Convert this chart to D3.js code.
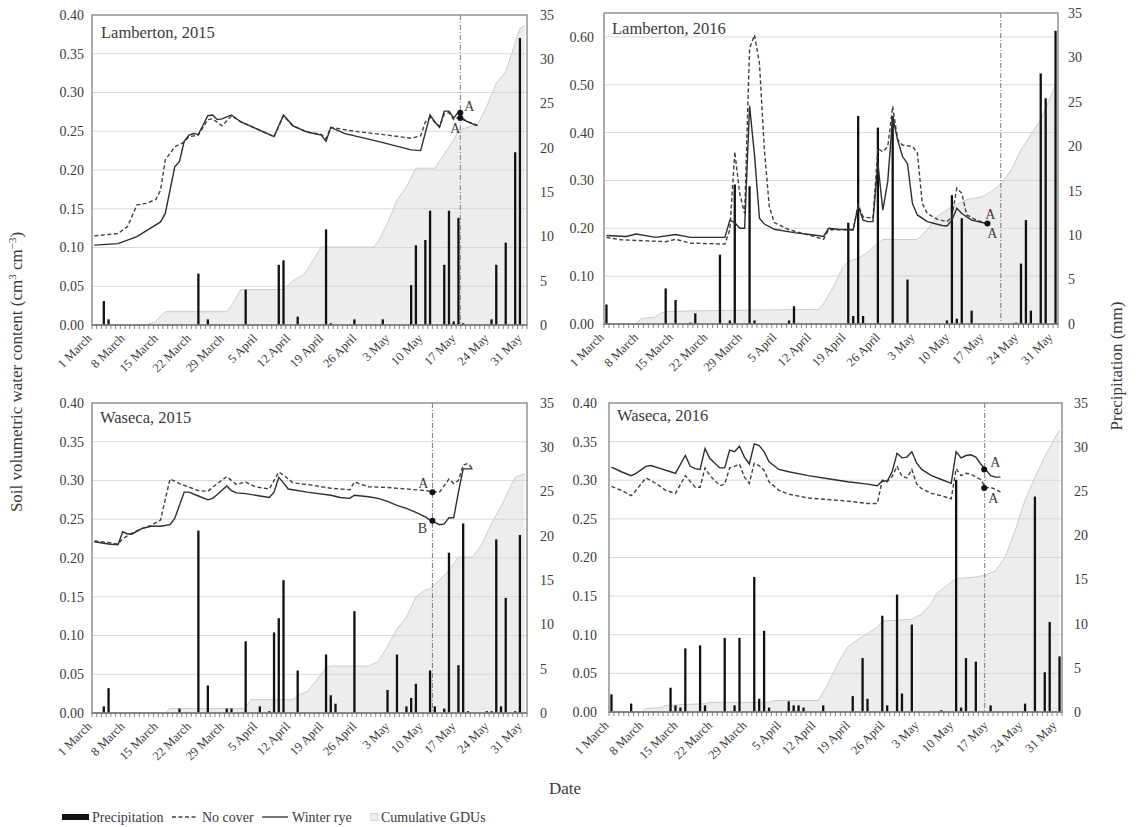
<!DOCTYPE html>
<html>
<head>
<meta charset="utf-8">
<script src="https://cdn.jsdelivr.net/npm/d3@7"></script>
<style>
  body { margin: 0; background: #fff; }
  svg { display: block; }
  text { font-family: "Liberation Serif", "Times New Roman", serif; fill: #3a3a3a; }
</style>
</head>
<body>
<svg id="chart" width="1138" height="827"></svg>
<script>
// ---- Shared axis content (day 0 = 1 March, day 91 = 31 May) ----
const tickDays = [0, 7, 14, 21, 28, 35, 42, 49, 56, 63, 70, 77, 84, 91];
const tickLabels = ["1 March", "8 March", "15 March", "22 March", "29 March", "5 April", "12 April",
  "19 April", "26 April", "3 May", "10 May", "17 May", "24 May", "31 May"];
const precipTicks = [0, 5, 10, 15, 20, 25, 30, 35];
const swcTicks040 = [0, 0.05, 0.10, 0.15, 0.20, 0.25, 0.30, 0.35, 0.40];
const swcTicks060 = [0, 0.10, 0.20, 0.30, 0.40, 0.50, 0.60];

// ---- Lamberton, 2015 ----
const lamb15Precip = [[2,2.7],[3,0.64],[22,5.8],[24,0.64],[32,4.0],[39,6.8],[40,7.3],[43,0.94],[49,10.8],[50,0.2],
  [55,0.64],[61,0.64],[67,4.5],[68,9.0],[70,9.6],[71,12.9],[74,6.8],[75,12.9],[76,0.4],[77,12.1],[78,0.2],
  [83,0.1],[84,0.64],[85,6.8],[87,9.3],[89,19.5],[90,32.4]];
const lamb15Rye = [[0,0.103],[5,0.105],[9,0.114],[14,0.133],[15,0.144],[17,0.204],[18,0.211],[19,0.237],[20,0.245],
  [21,0.247],[22,0.246],[23,0.258],[24,0.27],[25,0.271],[26,0.265],[27,0.266],[29,0.271],[31,0.262],[34,0.254],
  [38,0.243],[40,0.271],[42,0.257],[45,0.249],[48,0.245],[49,0.237],[50,0.255],[53,0.247],[60,0.237],[67,0.226],
  [69,0.225],[71,0.271],[72,0.262],[73,0.255],[74,0.276],[75,0.276],[76,0.267],[77,0.275],[78,0.265],[79,0.262],[81,0.257]];
const lamb15NoCover = [[0,0.115],[5,0.118],[7,0.127],[9,0.155],[11,0.157],[13,0.162],[14,0.174],[15,0.213],[17,0.23],
  [19,0.236],[20,0.243],[22,0.245],[24,0.265],[25,0.266],[27,0.257],[29,0.27],[31,0.262],[34,0.254],[38,0.243],
  [40,0.27],[42,0.257],[45,0.249],[48,0.246],[49,0.24],[50,0.255],[55,0.25],[62,0.245],[67,0.241],[69,0.244],
  [70,0.262],[71,0.268],[72,0.262],[73,0.256],[74,0.272],[75,0.274],[76,0.265],[77,0.268],[78,0.266],[79,0.262],[81,0.258]];
// cumulative GDUs, drawn against the secondary-axis range
const lamb15Gdu = [[0,0],[11,0],[12,0.2],[13,0.4],[14,1.0],[15,1.5],[28,1.5],[29,2.2],[31,4.0],[40,4.0],[42,5.0],
  [44,5.6],[45,6.2],[48,8.8],[59,8.8],[60,9.4],[62,11.5],[64,14.1],[66,15.6],[68,17.7],[72,17.7],[73,18.5],
  [76,20.9],[77,22.0],[80,22.5],[81,22.6],[83,24.7],[85,27.3],[87,28.6],[89,31.8],[90,33.5],[91,33.8]];
const lamb15Marks = [["A", 0.274], ["A", 0.267]];

// ---- Lamberton, 2016 ----
const lamb16Precip = [[0,2.2],[12,4.0],[14,2.7],[17,0.15],[18,1.2],[23,7.8],[25,0.4],[26,15.7],[29,15.5],[30,0.4],
  [37,0.4],[38,2.0],[49,11.4],[50,0.9],[51,23.4],[52,0.9],[55,22.1],[58,23.4],[61,5.0],[69,0.4],[70,14.5],[71,0.6],
  [72,11.9],[74,1.5],[83,0.15],[84,6.8],[85,11.7],[86,1.5],[88,28.2],[89,25.4],[91,33.0]];
const lamb16Rye = [[0,0.185],[4,0.183],[6,0.188],[10,0.181],[14,0.187],[17,0.181],[24,0.181],[25,0.217],[26,0.212],
  [27,0.2],[28,0.2],[29,0.456],[30,0.353],[31,0.221],[32,0.209],[34,0.198],[38,0.191],[42,0.186],[44,0.183],[45,0.2],
  [47,0.198],[50,0.197],[51,0.247],[52,0.217],[53,0.214],[54,0.214],[55,0.336],[56,0.238],[57,0.298],[58,0.433],
  [59,0.385],[60,0.35],[61,0.335],[62,0.252],[63,0.228],[65,0.214],[68,0.206],[69,0.205],[70,0.217],[71,0.242],
  [72,0.231],[74,0.217],[77,0.21]];
const lamb16NoCover = [[0,0.181],[3,0.176],[12,0.172],[14,0.177],[17,0.169],[24,0.167],[25,0.197],[26,0.36],[27,0.273],
  [28,0.231],[29,0.576],[30,0.604],[31,0.545],[32,0.364],[33,0.245],[34,0.212],[37,0.197],[42,0.183],[44,0.177],
  [45,0.197],[50,0.197],[51,0.249],[52,0.224],[54,0.221],[55,0.367],[56,0.36],[57,0.371],[58,0.455],[59,0.385],
  [60,0.374],[62,0.371],[63,0.358],[64,0.252],[65,0.231],[67,0.219],[69,0.214],[70,0.224],[71,0.284],[72,0.273],
  [73,0.228],[75,0.217],[77,0.21]];
const lamb16Gdu = [[0,0],[6,0],[7,0.6],[10,0.8],[11,1.2],[12,1.4],[20,1.5],[43,1.65],[44,2.3],[46,4.2],[48,6.5],
  [49,7.0],[51,7.4],[53,8.1],[55,9.1],[56,9.5],[63,9.5],[65,10.6],[67,12.1],[70,13.2],[73,14.0],[76,14.3],[78,14.9],
  [80,15.8],[82,17.3],[84,19.6],[86,21.3],[88,23.0],[90,25.6],[91,26.9]];
const lamb16Marks = [["A", 0.21]];

// ---- Waseca, 2015 ----
const wase15Precip = [[2,0.75],[3,2.8],[18,0.5],[22,20.6],[24,3.1],[28,0.5],[29,0.5],[32,8.1],[35,0.75],[37,0.2],
  [38,9.1],[39,10.7],[40,15.0],[43,4.8],[49,6.6],[50,2.0],[51,1.05],[55,11.5],[62,2.6],[64,6.6],[66,0.75],[67,1.7],
  [68,3.3],[71,4.8],[72,0.75],[74,0.5],[75,18.1],[77,5.4],[78,21.4],[79,0.2],[83,0.2],[84,0.2],[85,19.6],[86,0.75],
  [87,13.0],[89,0.2],[90,20.1]];
const wase15Rye = [[0,0.221],[3,0.218],[5,0.217],[6,0.234],[7,0.231],[8,0.231],[10,0.238],[12,0.241],[14,0.241],
  [16,0.243],[17,0.251],[19,0.285],[20,0.285],[22,0.28],[24,0.275],[25,0.277],[26,0.282],[28,0.293],[29,0.287],
  [30,0.284],[32,0.283],[35,0.28],[37,0.278],[38,0.285],[39,0.304],[40,0.297],[41,0.289],[45,0.285],[50,0.281],
  [52,0.278],[54,0.277],[55,0.281],[58,0.279],[60,0.277],[62,0.273],[64,0.268],[66,0.264],[68,0.259],[70,0.253],
  [71,0.249],[72,0.246],[73,0.243],[74,0.244],[75,0.252],[76,0.252],[77,0.285],[78,0.315],[80,0.315]];
const wase15NoCover = [[0,0.222],[3,0.22],[5,0.218],[6,0.225],[8,0.232],[10,0.238],[12,0.242],[14,0.249],[16,0.302],
  [18,0.296],[22,0.287],[24,0.286],[26,0.296],[28,0.305],[30,0.295],[32,0.298],[34,0.292],[37,0.289],[39,0.311],
  [40,0.307],[42,0.297],[46,0.294],[50,0.29],[54,0.288],[55,0.298],[58,0.292],[62,0.291],[66,0.289],[70,0.287],
  [71,0.286],[73,0.285],[75,0.302],[76,0.296],[77,0.3],[78,0.32],[79,0.322],[80,0.315]];
const wase15Gdu = [[0,0],[15,0],[16,0.5],[32,0.5],[33,1.5],[42,1.5],[43,2.0],[45,2.4],[47,3.7],[49,5.1],[50,5.3],
  [58,5.3],[60,5.8],[62,7.5],[64,9.5],[66,10.8],[68,13.1],[70,13.9],[71,14.0],[73,15.0],[75,16.1],[77,17.6],
  [80,17.6],[82,19.1],[84,21.4],[86,23.3],[88,25.5],[89,26.6],[91,27.0]];
const wase15Marks = [["A", 0.285], ["B", 0.248]];

// ---- Waseca, 2016 ----
const wase16Precip = [[0,2.0],[4,0.95],[12,2.75],[13,0.75],[14,0.5],[15,7.2],[18,7.55],[19,0.75],[23,8.4],[25,0.75],
  [26,8.4],[29,15.3],[30,1.5],[31,9.2],[32,0.5],[36,1.2],[37,0.75],[38,0.75],[39,0.5],[43,0.75],[49,1.8],[51,6.1],
  [52,1.5],[55,10.9],[56,0.75],[58,13.3],[59,2.1],[61,9.9],[67,0.2],[70,26.3],[71,0.5],[72,6.1],[74,5.7],[77,0.75],
  [84,0.95],[86,24.4],[88,4.5],[89,10.2],[91,6.3]];
const wase16Rye = [[0,0.317],[2,0.311],[4,0.306],[5,0.309],[7,0.318],[8,0.319],[10,0.315],[12,0.311],[13,0.309],
  [15,0.332],[16,0.318],[17,0.315],[18,0.314],[19,0.341],[20,0.328],[22,0.316],[23,0.316],[24,0.339],[25,0.337],
  [26,0.344],[27,0.33],[28,0.321],[29,0.347],[30,0.345],[31,0.337],[32,0.324],[34,0.314],[36,0.311],[40,0.306],
  [44,0.302],[48,0.298],[52,0.295],[54,0.293],[55,0.299],[56,0.299],[57,0.311],[58,0.335],[59,0.329],[60,0.33],
  [61,0.337],[62,0.322],[63,0.314],[65,0.306],[67,0.301],[69,0.296],[70,0.337],[71,0.329],[72,0.332],[73,0.333],
  [74,0.33],[75,0.321],[76,0.314],[77,0.306],[78,0.304],[79,0.304]];
const wase16NoCover = [[0,0.292],[2,0.287],[4,0.28],[5,0.287],[7,0.303],[9,0.296],[11,0.287],[13,0.283],[15,0.306],
  [17,0.291],[18,0.291],[19,0.316],[20,0.306],[22,0.293],[23,0.295],[24,0.316],[25,0.318],[26,0.321],[27,0.304],
  [28,0.296],[29,0.322],[30,0.319],[31,0.313],[32,0.298],[34,0.287],[36,0.282],[40,0.277],[44,0.275],[48,0.273],
  [52,0.27],[54,0.27],[55,0.3],[56,0.298],[57,0.305],[58,0.318],[59,0.305],[60,0.303],[61,0.314],[62,0.295],
  [63,0.289],[65,0.283],[67,0.28],[69,0.276],[70,0.315],[71,0.306],[72,0.309],[73,0.308],[74,0.304],[75,0.301],
  [76,0.29],[77,0.291],[78,0.288],[79,0.285]];
const wase16Gdu = [[0,0],[6,0],[7,0.4],[10,0.5],[11,0.75],[19,0.95],[20,1.1],[32,1.1],[33,1.3],[42,1.3],[44,3.2],
  [46,5.5],[48,7.4],[50,8.2],[52,8.9],[54,9.6],[55,10.3],[61,10.5],[63,11.1],[65,12.3],[66,13.4],[68,14.3],
  [70,15.1],[74,15.3],[76,15.5],[78,16.0],[80,17.6],[82,20.6],[84,24.0],[86,26.6],[88,28.9],[90,31.0],[91,31.9]];
const wase16Marks = [["A", 0.314], ["A", 0.29]];

// ---- Layout of the four panels ----
const panels = [
  { title: "Lamberton, 2015", left: 92, right: 527, top: 15, bottom: 325, yMax: 0.40, yTicks: swcTicks040,
    precip: lamb15Precip, rye: lamb15Rye, noCover: lamb15NoCover, gdu: lamb15Gdu, marks: lamb15Marks,
    refLine: 77.9, markX: 77.9, markOffsets: [[9, -2], [-5, 15]], leftLabelX: 84, rightLabelX: 540, titleX: 101, titleY: 38 },
  { title: "Lamberton, 2016", left: 604, right: 1058, top: 13, bottom: 324, yMax: 0.65, yTicks: swcTicks060,
    precip: lamb16Precip, rye: lamb16Rye, noCover: lamb16NoCover, gdu: lamb16Gdu, marks: lamb16Marks,
    refLine: 80.4, markX: 77.7, markOffsets: [[3, -5]], extraLabel: [5, 14], leftLabelX: 594, rightLabelX: 1068, titleX: 612, titleY: 34 },
  { title: "Waseca, 2015", left: 92, right: 527, top: 403, bottom: 713, yMax: 0.40, yTicks: swcTicks040,
    precip: wase15Precip, rye: wase15Rye, noCover: wase15NoCover, gdu: wase15Gdu, marks: wase15Marks,
    refLine: 72.0, markX: 72.0, markOffsets: [[-9, -4], [-10, 12]], leftLabelX: 84, rightLabelX: 540, titleX: 100, titleY: 423 },
  { title: "Waseca, 2016", left: 609, right: 1062, top: 403, bottom: 712, yMax: 0.40, yTicks: swcTicks040,
    precip: wase16Precip, rye: wase16Rye, noCover: wase16NoCover, gdu: wase16Gdu, marks: wase16Marks,
    refLine: 76.3, markX: 76.2, markOffsets: [[11, -2], [9, 15]], leftLabelX: 597, rightLabelX: 1074, titleX: 617, titleY: 421 }
];

const svg = d3.select("#chart");

function drawPanel(p) {
  const g = svg.append("g");
  const x = d3.scaleLinear().domain([0, 92]).range([p.left, p.right]);
  const y = d3.scaleLinear().domain([0, p.yMax]).range([p.bottom, p.top]);
  const yP = d3.scaleLinear().domain([0, 35]).range([p.bottom, p.top]);
  const cx = d => x(d + 0.5);

  // horizontal gridlines
  g.selectAll(".grid").data(p.yTicks.filter(v => v > 0 && v < p.yMax - 1e-9)).join("line")
    .attr("x1", p.left).attr("x2", p.right)
    .attr("y1", d => y(d)).attr("y2", d => y(d))
    .attr("stroke", "#d9d9d9").attr("stroke-width", 1);

  // cumulative GDU area
  g.append("path").datum(p.gdu)
    .attr("d", d3.area().x(d => cx(d[0])).y0(p.bottom).y1(d => yP(d[1])))
    .attr("fill", "#d4d4d4").attr("fill-opacity", 0.42);
  g.append("path").datum(p.gdu)
    .attr("d", d3.line().x(d => cx(d[0])).y(d => yP(d[1])))
    .attr("fill", "none").attr("stroke", "#cbcbcb").attr("stroke-width", 1);

  // precipitation bars
  const bw = 2.3;
  g.selectAll(".bar").data(p.precip).join("rect")
    .attr("x", d => cx(d[0]) - bw / 2).attr("width", bw)
    .attr("y", d => yP(d[1])).attr("height", d => p.bottom - yP(d[1]))
    .attr("fill", "#111");

  // soil water content lines
  const line = d3.line().x(d => cx(d[0])).y(d => y(d[1]));
  g.append("path").datum(p.noCover).attr("d", line)
    .attr("fill", "none").attr("stroke", "#404040").attr("stroke-width", 1.4)
    .attr("stroke-dasharray", "4,2.5");
  g.append("path").datum(p.rye).attr("d", line)
    .attr("fill", "none").attr("stroke", "#2e2e2e").attr("stroke-width", 1.4);

  // reference date line
  g.append("line")
    .attr("x1", x(p.refLine)).attr("x2", x(p.refLine))
    .attr("y1", p.top).attr("y2", p.bottom)
    .attr("stroke", "#7a7a7a").attr("stroke-width", 1)
    .attr("stroke-dasharray", "5,2,1,2");

  // significance markers
  p.marks.forEach((m, i) => {
    const mx = x(p.markX), my = y(m[1]);
    g.append("circle").attr("cx", mx).attr("cy", my).attr("r", 3).attr("fill", "#111");
    const off = p.markOffsets[i];
    g.append("text").attr("x", mx + off[0]).attr("y", my + off[1])
      .attr("text-anchor", "middle").attr("font-size", 14).text(m[0]);
    if (p.extraLabel) {
      g.append("text").attr("x", mx + p.extraLabel[0]).attr("y", my + p.extraLabel[1])
        .attr("text-anchor", "middle").attr("font-size", 14).text(m[0]);
    }
  });

  // plot frame
  g.append("rect")
    .attr("x", p.left).attr("y", p.top)
    .attr("width", p.right - p.left).attr("height", p.bottom - p.top)
    .attr("fill", "none").attr("stroke", "#8a8a8a").attr("stroke-width", 1.4);

  // daily tick marks under the date axis
  g.selectAll(".dtick").data(d3.range(93)).join("line")
    .attr("x1", d => x(d)).attr("x2", d => x(d))
    .attr("y1", p.bottom).attr("y2", p.bottom + 4)
    .attr("stroke", "#666").attr("stroke-width", 0.8);
  g.append("line").attr("x1", p.left).attr("x2", p.right)
    .attr("y1", p.bottom).attr("y2", p.bottom).attr("stroke", "#666").attr("stroke-width", 1);

  // date labels
  g.selectAll(".xl").data(tickDays).join("text")
    .attr("transform", d => `translate(${cx(d) - 2},${p.bottom + 14}) rotate(-45)`)
    .attr("text-anchor", "end").attr("font-size", 12.5)
    .text((d, i) => tickLabels[i]);

  // left axis labels
  g.selectAll(".yl").data(p.yTicks).join("text")
    .attr("x", p.leftLabelX).attr("y", d => y(d)).attr("dy", "0.35em")
    .attr("text-anchor", "end").attr("font-size", 14)
    .text(d3.format(".2f"));

  // right axis labels
  g.selectAll(".pl").data(precipTicks).join("text")
    .attr("x", p.rightLabelX).attr("y", d => yP(d)).attr("dy", "0.35em")
    .attr("text-anchor", "start").attr("font-size", 14)
    .text(d => d);

  // panel title
  g.append("text").attr("x", p.titleX).attr("y", p.titleY)
    .attr("font-size", 16.5).attr("fill", "#222").text(p.title);
}

panels.forEach(drawPanel);

// axis titles
const yTitle = svg.append("text")
  .attr("transform", "translate(22,372) rotate(-90)")
  .attr("text-anchor", "middle").attr("font-size", 17).attr("fill", "#222");
yTitle.append("tspan").text("Soil volumetric water content (cm");
yTitle.append("tspan").attr("baseline-shift", "super").attr("font-size", 11).text("3");
yTitle.append("tspan").text(" cm");
yTitle.append("tspan").attr("baseline-shift", "super").attr("font-size", 11).text("−3");
yTitle.append("tspan").text(")");

svg.append("text")
  .attr("transform", "translate(1122,366) rotate(-90)")
  .attr("text-anchor", "middle").attr("font-size", 17).attr("fill", "#222")
  .text("Precipitation (mm)");

svg.append("text").attr("x", 565).attr("y", 794)
  .attr("text-anchor", "middle").attr("font-size", 17).attr("fill", "#222").text("Date");

// legend
const lg = svg.append("g").attr("transform", "translate(0,817)");
lg.append("rect").attr("x", 62).attr("y", -3).attr("width", 27).attr("height", 6).attr("fill", "#111");
lg.append("text").attr("x", 92).attr("y", 0).attr("dy", "0.35em").attr("font-size", 14).text("Precipitation");
lg.append("line").attr("x1", 172).attr("x2", 197).attr("y1", 0).attr("y2", 0)
  .attr("stroke", "#404040").attr("stroke-width", 1.3).attr("stroke-dasharray", "4,2.5");
lg.append("text").attr("x", 202).attr("y", 0).attr("dy", "0.35em").attr("font-size", 14).text("No cover");
lg.append("line").attr("x1", 262).attr("x2", 288).attr("y1", 0).attr("y2", 0)
  .attr("stroke", "#2e2e2e").attr("stroke-width", 1.3);
lg.append("text").attr("x", 292).attr("y", 0).attr("dy", "0.35em").attr("font-size", 14).text("Winter rye");
lg.append("rect").attr("x", 371).attr("y", -3.5).attr("width", 7).attr("height", 7)
  .attr("fill", "#eeeeee").attr("stroke", "#cbcbcb").attr("stroke-width", 0.8);
lg.append("text").attr("x", 381).attr("y", 0).attr("dy", "0.35em").attr("font-size", 14).text("Cumulative GDUs");
</script>
</body>
</html>
